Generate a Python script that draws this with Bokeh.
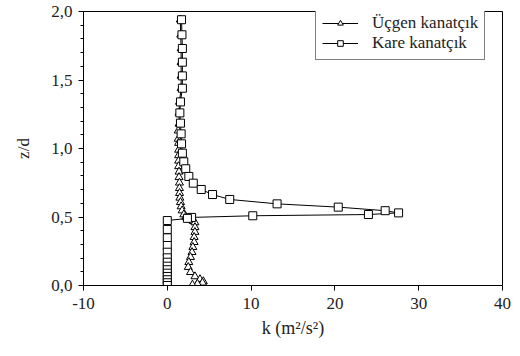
from bokeh.plotting import figure
from bokeh.models import Range1d, FixedTicker, Legend, LegendItem
from bokeh.embed import file_html
from bokeh.resources import INLINE

# Square fin (Kare kanatçık)
kare_z = [1.94, 1.83, 1.73, 1.63, 1.53, 1.44, 1.34, 1.26, 1.185, 1.107, 1.034, 0.966, 0.903,
          0.852, 0.796, 0.747, 0.701, 0.664, 0.628, 0.596, 0.572, 0.546, 0.53, 0.518, 0.509,
          0.497, 0.49, 0.474, 0.409, 0.348, 0.292, 0.243, 0.202, 0.170, 0.141, 0.115, 0.09,
          0.066, 0.042, 0.02, 0.0]
kare_k = [1.7, 1.75, 1.8, 1.8, 1.8, 1.8, 1.57, 1.5, 1.57, 1.65, 1.7, 1.8, 1.97,
          2.2, 2.57, 3.1, 4.05, 5.4, 7.45, 13.1, 20.4, 26.0, 27.6, 24.0, 10.2,
          2.9, 2.4, 0.0, 0.0, 0.0, 0.0, 0.0, 0.0, 0.0, 0.0, 0.0, 0.0,
          0.0, 0.0, 0.0, 0.0]

# Triangular fin (Üçgen kanatçık)
ucgen_z = [1.94, 1.83, 1.73, 1.63, 1.53, 1.44, 1.34, 1.26, 1.18, 1.13, 1.07, 1.04, 0.99,
           0.95, 0.91, 0.87, 0.83, 0.79, 0.75, 0.71, 0.674, 0.64, 0.608, 0.577, 0.547,
           0.518, 0.50, 0.49, 0.48, 0.47, 0.46, 0.425, 0.39, 0.353, 0.316, 0.28, 0.243,
           0.207, 0.17, 0.134, 0.097, 0.066, 0.045, 0.03, 0.02, 0.012, 0.005]
ucgen_k = [1.55, 1.6, 1.65, 1.65, 1.65, 1.65, 1.45, 1.4, 1.4, 1.3, 1.3, 1.35, 1.35,
           1.35, 1.35, 1.35, 1.4, 1.4, 1.45, 1.45, 1.46, 1.5, 1.57, 1.65, 1.77,
           1.97, 2.2, 2.5, 2.8, 3.1, 3.3, 3.3, 3.3, 3.2, 3.2, 3.05, 2.95,
           2.77, 2.57, 2.5, 2.77, 3.3, 3.9, 4.3, 4.2, 3.6, 3.0]

x_ticks = [-10, 0, 10, 20, 30, 40]
y_ticks = [0.0, 0.5, 1.0, 1.5, 2.0]
y_tick_labels = ["0,0", "0,5", "1,0", "1,5", "2,0"]
y_minor = [0.1, 0.2, 0.3, 0.4, 0.6, 0.7, 0.8, 0.9, 1.1, 1.2, 1.3, 1.4, 1.6, 1.7, 1.8, 1.9]

FONT = "Liberation Serif"

p = figure(width=520, height=356, output_backend="svg", toolbar_location=None,
           x_range=Range1d(-10, 40), y_range=Range1d(0, 2),
           min_border_left=83, min_border_right=18, min_border_top=11, min_border_bottom=71)
p.xgrid.visible = False
p.ygrid.visible = False
p.outline_line_color = "black"
p.outline_line_width = 1

p.xaxis.ticker = FixedTicker(ticks=x_ticks)
p.yaxis.ticker = FixedTicker(ticks=y_ticks, minor_ticks=y_minor)
p.yaxis.major_label_overrides = {v: s for v, s in zip(y_ticks, y_tick_labels)}
p.xaxis.major_label_overrides = {v: str(v) for v in x_ticks}

for ax in (p.xaxis[0], p.yaxis[0]):
    ax.axis_line_color = "black"
    ax.major_tick_line_color = "black"
    ax.major_tick_in = 0
    ax.major_tick_out = 5
    ax.major_label_text_font = FONT
    ax.major_label_text_font_size = "17px"
    ax.major_label_text_color = "#222222"
    ax.axis_label_text_font = FONT
    ax.axis_label_text_font_style = "normal"
    ax.axis_label_text_color = "#222222"
p.xaxis.axis_label_text_font_size = "18px"
p.yaxis.axis_label_text_font_size = "17px"
p.xaxis.minor_tick_line_color = None
p.yaxis.minor_tick_line_color = "black"
p.yaxis.minor_tick_in = 0
p.yaxis.minor_tick_out = 3
p.xaxis.major_label_standoff = 7
p.yaxis.major_label_standoff = 6
p.xaxis.axis_label = "k (m²/s²)"
p.yaxis.axis_label = "z/d"
p.xaxis.axis_label_standoff = 6
p.yaxis.axis_label_standoff = 15

lu = p.line(ucgen_k, ucgen_z, line_color="black", line_width=1)
mu = p.scatter(ucgen_k, ucgen_z, marker="triangle", size=8, fill_color="white",
               line_color="black", line_width=1)
lk = p.line(kare_k, kare_z, line_color="black", line_width=1)
mk = p.scatter(kare_k, kare_z, marker="square", size=8, fill_color="white",
               line_color="black", line_width=1)

legend = Legend(items=[LegendItem(label="Üçgen kanatçık", renderers=[lu, mu]),
                       LegendItem(label="Kare kanatçık", renderers=[lk, mk])],
                location=(232, 225))
legend.label_text_font = FONT
legend.label_text_font_size = "17px"
legend.label_text_color = "#222222"
legend.border_line_color = "black"
legend.border_line_width = 1
legend.glyph_width = 36
legend.glyph_height = 14
legend.label_height = 14
legend.spacing = 0
legend.padding = 6
legend.label_standoff = 14
legend.margin = 0
legend.background_fill_alpha = 1
p.add_layout(legend, "center")

open("out.html", "w").write(file_html(p, INLINE))
